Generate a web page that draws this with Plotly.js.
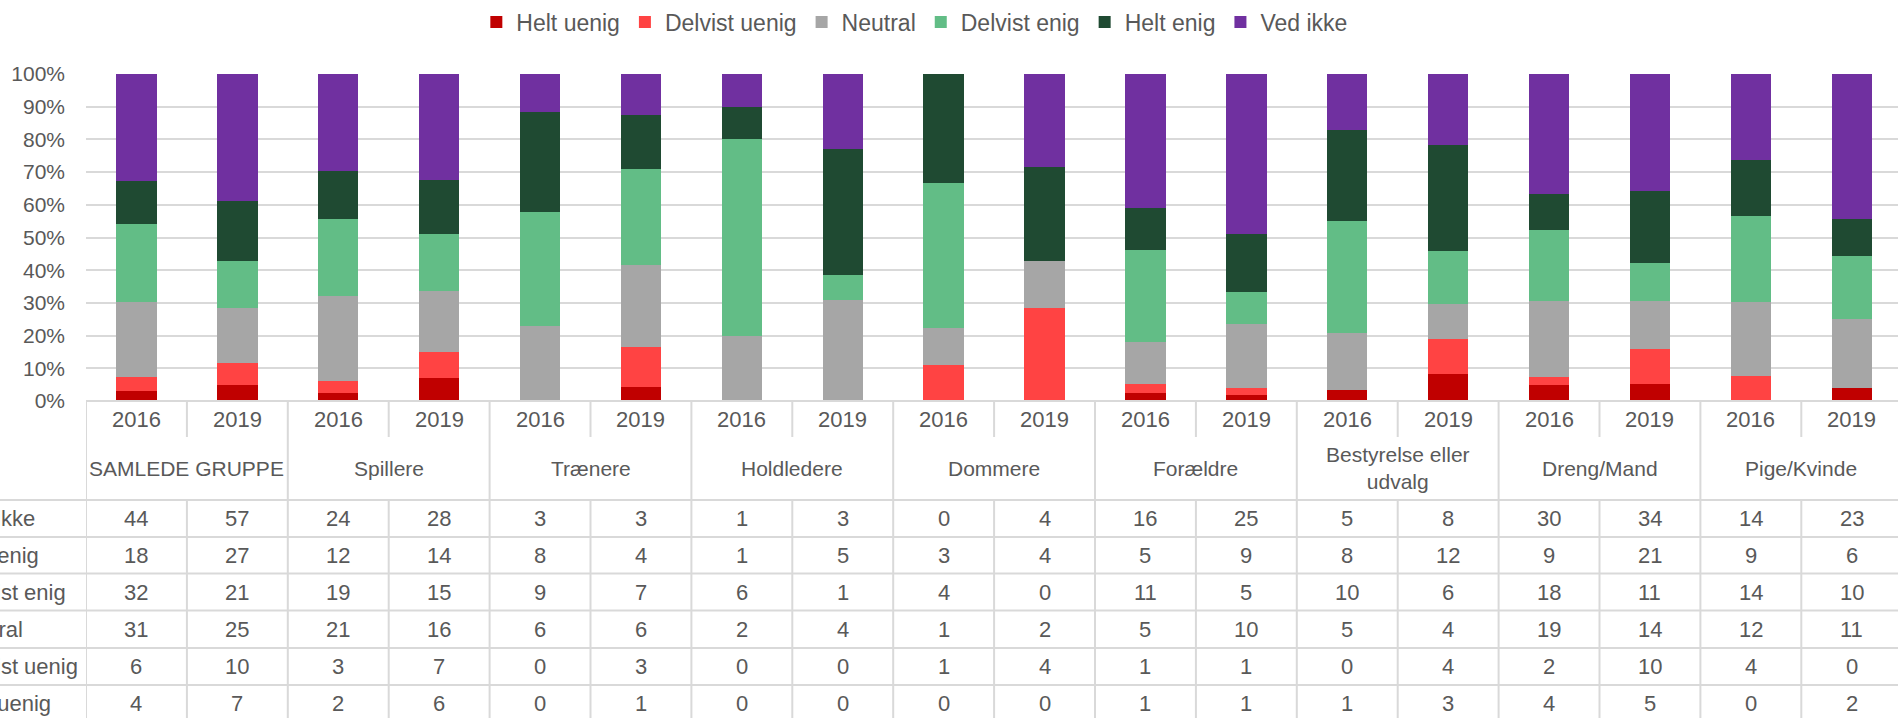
<!DOCTYPE html>
<html>
<head>
<meta charset="utf-8">
<script src="https://cdn.plot.ly/plotly-3.0.1.min.js"></script>
<style>
  html, body { margin: 0; padding: 0; background: #ffffff; overflow: hidden; }
  #chart { width: 1898px; height: 718px; }
</style>
</head>
<body>
<div id="chart"></div>
<script>
// ---------- DATA ----------
const groups = ['SAMLEDE GRUPPE', 'Spillere', 'Trænere', 'Holdledere', 'Dommere', 'Forældre', 'Bestyrelse eller<br>udvalg', 'Dreng/Mand', 'Pige/Kvinde'];
const years = ['2016', '2019'];

// counts per group/year (order: group1-2016, group1-2019, group2-2016, ...)
const heltUenig    = [4, 7, 2, 6, 0, 1, 0, 0, 0, 0, 1, 1, 1, 3, 4, 5, 0, 2];
const delvistUenig = [6, 10, 3, 7, 0, 3, 0, 0, 1, 4, 1, 1, 0, 4, 2, 10, 4, 0];
const neutral      = [31, 25, 21, 16, 6, 6, 2, 4, 1, 2, 5, 10, 5, 4, 19, 14, 12, 11];
const delvistEnig  = [32, 21, 19, 15, 9, 7, 6, 1, 4, 0, 11, 5, 10, 6, 18, 11, 14, 10];
const heltEnig     = [18, 27, 12, 14, 8, 4, 1, 5, 3, 4, 5, 9, 8, 12, 9, 21, 9, 6];
const vedIkke      = [44, 57, 24, 28, 3, 3, 1, 3, 0, 4, 16, 25, 5, 8, 30, 34, 14, 23];

const seriesNames = ['Helt uenig', 'Delvist uenig', 'Neutral', 'Delvist enig', 'Helt enig', 'Ved ikke'];
const seriesValues = [heltUenig, delvistUenig, neutral, delvistEnig, heltEnig, vedIkke];
const seriesColors = ['#C00000', '#FF4343', '#A6A6A6', '#62BD86', '#1F4A32', '#7030A0'];

// ---------- LAYOUT CONSTANTS ----------
const W = 1898, H = 718;
const PLOT_L = 86, PLOT_T = 74, PLOT_B = 401;
const COL_W = 100.9;
const plotW = W - PLOT_L;
const plotH = PLOT_B - PLOT_T;
const TXT = '#595959';
const LINE = '#D9D9D9';
const FONT = '"Liberation Sans", Arial, sans-serif';

const py = p => (PLOT_B - p) / plotH;        // pixel y -> paper y
const px = p => (p - PLOT_L) / plotW;        // pixel x -> paper x

// categories
const cats = [];
groups.forEach((g, gi) => years.forEach(y => cats.push(gi + '|' + y)));
const yearOf = c => c.split('|')[1];

// ---------- TRACES ----------
const traces = seriesNames.map((name, s) => ({
  type: 'bar',
  name: name,
  x: cats,
  y: seriesValues[s],
  marker: { color: seriesColors[s], line: { width: 0 } },
  hoverinfo: 'skip'
}));

// ---------- TABLE (shapes + annotations) ----------
const shapes = [];
const annotations = [];
const lineStyle = { color: LINE, width: 2 };
const n = cats.length;
const yBottom = py(H + 10);

// top border
shapes.push({ type: 'line', xref: 'x', yref: 'paper', x0: -0.5, x1: n - 0.5, y0: 0, y1: 0, line: lineStyle, layer: 'above' });
// left border
shapes.push({ type: 'line', xref: 'x', yref: 'paper', x0: -0.5, x1: -0.5, y0: 0, y1: yBottom, line: lineStyle, layer: 'above' });

for (let i = 0; i < n; i++) {
  const xb = i + 0.5;
  if (i % 2 === 0) {
    // between years inside a group: year row + data rows
    shapes.push({ type: 'line', xref: 'x', yref: 'paper', x0: xb, x1: xb, y0: 0, y1: py(437), line: lineStyle });
    shapes.push({ type: 'line', xref: 'x', yref: 'paper', x0: xb, x1: xb, y0: py(500), y1: yBottom, line: lineStyle });
  } else {
    // between groups: full height
    shapes.push({ type: 'line', xref: 'x', yref: 'paper', x0: xb, x1: xb, y0: 0, y1: yBottom, line: lineStyle });
  }
}

// horizontal lines of data rows
const rowLines = [500, 537, 573.5, 610.5, 648, 685];
rowLines.forEach(p => {
  shapes.push({ type: 'line', xref: 'paper', yref: 'paper', x0: px(0), x1: 1, y0: py(p), y1: py(p), line: lineStyle });
});

// year labels
cats.forEach(c => {
  annotations.push({ xref: 'x', yref: 'paper', x: c, y: py(419), text: yearOf(c), showarrow: false,
    xanchor: 'center', yanchor: 'middle', font: { family: FONT, size: 22, color: TXT } });
});
// group labels
groups.forEach((g, gi) => {
  annotations.push({ xref: 'x', yref: 'paper', x: gi * 2 + 0.5, y: py(468), text: g, showarrow: false,
    xanchor: 'center', yanchor: 'middle', font: { family: FONT, size: 21, color: TXT } });
});

// data rows: top row = last series (Ved ikke), bottom row = first series (Helt uenig)
const rowCenters = [518.5, 555, 592, 629, 666.5, 703.5];
for (let r = 0; r < seriesNames.length; r++) {
  const s = seriesNames.length - 1 - r;
  const yc = py(rowCenters[r]);
  // row label (left aligned, partly outside the figure)
  annotations.push({ xref: 'paper', yref: 'paper', x: px(-50), y: yc, text: seriesNames[s], showarrow: false,
    xanchor: 'left', yanchor: 'middle', font: { family: FONT, size: 22, color: TXT } });
  cats.forEach((c, i) => {
    annotations.push({ xref: 'x', yref: 'paper', x: c, y: yc, text: String(seriesValues[s][i]), showarrow: false,
      xanchor: 'center', yanchor: 'middle', font: { family: FONT, size: 22, color: TXT } });
  });
}

// ---------- LAYOUT ----------
const layout = {
  width: W,
  height: H,
  margin: { l: PLOT_L, r: 0, t: PLOT_T, b: H - PLOT_B, pad: 0 },
  paper_bgcolor: '#ffffff',
  plot_bgcolor: '#ffffff',
  barmode: 'stack',
  barnorm: 'percent',
  bargap: 0.6,
  showlegend: true,
  legend: {
    orientation: 'h',
    xref: 'container', yref: 'container',
    x: 0.482, xanchor: 'center',
    y: 1 - 22 / H, yanchor: 'middle',
    traceorder: 'normal',
    font: { family: FONT, size: 23, color: TXT },
    itemclick: false, itemdoubleclick: false
  },
  xaxis: {
    type: 'category',
    range: [-0.5, -0.5 + plotW / COL_W],
    showticklabels: false,
    showgrid: false,
    zeroline: false,
    showline: false,
    ticks: ''
  },
  yaxis: {
    range: [0, 100],
    dtick: 10,
    tick0: 0,
    ticksuffix: '%',
    showgrid: true,
    gridcolor: LINE,
    gridwidth: 2,
    zeroline: false,
    showline: false,
    ticks: '',
    ticklabelstandoff: 20,
    tickfont: { family: FONT, size: 21, color: TXT }
  },
  shapes: shapes,
  annotations: annotations,
  hovermode: false
};

Plotly.newPlot('chart', traces, layout, { displayModeBar: false, staticPlot: true });
</script>
</body>
</html>
